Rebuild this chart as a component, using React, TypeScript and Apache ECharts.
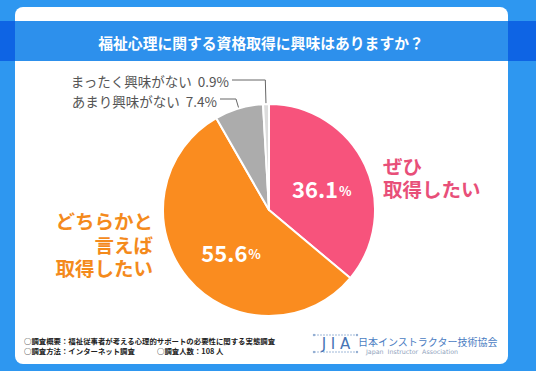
import React, { useEffect, useRef } from "react";
import * as echarts from "echarts";

const title = "福祉心理に関する資格取得に興味はありますか？";
const categories = ["ぜひ\n取得したい", "どちらかと\n言えば\n取得したい", "あまり興味がない", "まったく興味がない"];
const values = [36.1, 55.6, 7.4, 0.9];
const sliceColors = ["#f7537c", "#fa8c1f", "#acacac", "#dcdcdc"];
const nameColors = ["#e84f79", "#f48a1c", "#555555", "#555555"];
const footer1 = "○調査概要：福祉従事者が考える心理的サポートの必要性に関する実態調査";
const footer2a = "○調査方法：インターネット調査";
const footer2b = "○調査人数：108 人";
const logoMark = "J I A";
const logoName = "日本インストラクター技術協会";
const logoSub = "Japan  Instructor  Association";

const FONT = '"Noto Sans CJK JP", "Noto Sans", sans-serif';
const CX = 269;
const CY = 210;
const R = 106;

function slicePoint(i: number, rf: number): [number, number] {
  const total = values.reduce((a, b) => a + b, 0);
  let cum = 0;
  for (let k = 0; k < i; k++) cum += values[k];
  cum += values[i] / 2;
  const ang = (cum / total) * Math.PI * 2;
  return [CX + Math.sin(ang) * R * rf, CY - Math.cos(ang) * R * rf];
}

function leader(i: number, rf: number, ey: number, endX: number): number[][] {
  const s = slicePoint(i, rf);
  const k = (ey - CY) / (s[1] - CY);
  const ex = CX + k * (s[0] - CX);
  return [s, [ex, ey], [endX, ey]];
}

export default function App() {
  const ref = useRef<HTMLDivElement>(null);
  useEffect(() => {
    if (!ref.current) return;
    const chart = echarts.init(ref.current, undefined, { renderer: "svg" });
    const mainData = values.map((v, i) => ({
      value: v,
      name: categories[i],
      itemStyle: { color: sliceColors[i] },
      label:
        i < 2
          ? { position: "inside", color: "#ffffff" }
          : { position: "outside", color: "#555555", fontSize: 13.5, fontFamily: FONT },
      labelLine: { show: i >= 2, lineStyle: { color: "#666666", width: 1 } },
    }));
    const nameData = values.map((v, i) => ({
      value: v,
      name: categories[i],
      label: { show: i < 2, color: nameColors[i] },
    }));
    chart.setOption({
      animation: false,
      backgroundColor: "#2e97f0",
      graphic: [
        { type: "rect", z: 0, shape: { x: 0, y: 21, width: 536, height: 40 }, style: { fill: "#0e64e4" } },
        { type: "rect", z: 1, shape: { x: 15, y: 7, width: 493, height: 357, r: 8 }, style: { fill: "#ffffff" } },
        { type: "rect", z: 2, shape: { x: 15, y: 21, width: 493, height: 40 }, style: { fill: "#2d90ec" } },
        {
          type: "text", z: 3, x: 261, y: 42,
          style: { text: title, fill: "#ffffff", font: `bold 14.8px ${FONT}`, align: "center", verticalAlign: "middle" },
        },
        {
          type: "text", z: 3, x: 24, y: 340,
          style: { text: footer1, fill: "#222222", font: `bold 7.4px ${FONT}`, align: "left", verticalAlign: "middle" },
        },
        {
          type: "text", z: 3, x: 24, y: 350.5,
          style: { text: footer2a, fill: "#222222", font: `bold 7.4px ${FONT}`, align: "left", verticalAlign: "middle" },
        },
        {
          type: "text", z: 3, x: 157, y: 350.5,
          style: { text: footer2b, fill: "#222222", font: `bold 7.4px ${FONT}`, align: "left", verticalAlign: "middle" },
        },
        { type: "line", z: 3, shape: { x1: 314, y1: 335, x2: 357, y2: 335 }, style: { stroke: "#9fb8d8", lineWidth: 1, lineDash: [2, 1] } },
        { type: "line", z: 3, shape: { x1: 314, y1: 352, x2: 357, y2: 352 }, style: { stroke: "#9fb8d8", lineWidth: 1, lineDash: [2, 1] } },
        { type: "circle", z: 3, shape: { cx: 314, cy: 335, r: 1.2 }, style: { fill: "#8eaad0" } },
        { type: "circle", z: 3, shape: { cx: 357, cy: 335, r: 1.2 }, style: { fill: "#8eaad0" } },
        { type: "circle", z: 3, shape: { cx: 314, cy: 352, r: 1.2 }, style: { fill: "#8eaad0" } },
        { type: "circle", z: 3, shape: { cx: 357, cy: 352, r: 1.2 }, style: { fill: "#8eaad0" } },
        {
          type: "text", z: 3, x: 336, y: 344,
          style: { text: logoMark, fill: "#4774b4", font: `15px "DejaVu Sans", sans-serif`, align: "center", verticalAlign: "middle" },
        },
        {
          type: "text", z: 3, x: 358, y: 341,
          style: { text: logoName, fill: "#4a7cc2", font: `10px ${FONT}`, align: "left", verticalAlign: "middle" },
        },
        {
          type: "text", z: 3, x: 366, y: 351,
          style: { text: logoSub, fill: "#8fa3bd", font: `6.3px "DejaVu Sans", sans-serif`, align: "left", verticalAlign: "middle" },
        },
      ],
      series: [
        {
          type: "pie",
          z: 5,
          center: [CX, CY],
          radius: R,
          startAngle: 90,
          clockwise: true,
          avoidLabelOverlap: false,
          silent: true,
          itemStyle: { borderColor: "#ffffff", borderWidth: 2 },
          label: {
            show: true,
            fontFamily: FONT,
            formatter: (p: any) =>
              p.dataIndex < 2 ? `{v|${p.value}}{p|%}` : `${p.name}  ${p.value}%`,
            rich: {
              v: { fontSize: 22, fontWeight: "bold", color: "#ffffff", fontFamily: FONT },
              p: { fontSize: 13, fontWeight: "bold", color: "#ffffff", fontFamily: FONT, padding: [4, 0, 0, 1] },
            },
          },
          labelLayout: (params: any) => {
            const i = params.dataIndex;
            if (i === 0) return { dx: 2, dy: 2 };
            if (i === 1) return { dx: 5, dy: 6 };
            if (i === 2)
              return { x: 217, y: 101, align: "right", verticalAlign: "middle", labelLinePoints: leader(2, 0.9, 99, 220) };
            return { x: 229, y: 81, align: "right", verticalAlign: "middle", labelLinePoints: leader(3, 0.94, 80, 232) };
          },
          data: mainData,
        },
        {
          type: "pie",
          z: 6,
          center: [CX, CY],
          radius: R,
          startAngle: 90,
          clockwise: true,
          avoidLabelOverlap: false,
          silent: true,
          itemStyle: { color: "rgba(0,0,0,0)", borderWidth: 0 },
          label: {
            show: true,
            position: "outside",
            formatter: "{b}",
            fontSize: 19.5,
            fontWeight: "bold",
            lineHeight: 23.5,
            fontFamily: FONT,
          },
          labelLine: { show: false },
          labelLayout: (params: any) => {
            const i = params.dataIndex;
            if (i === 0) return { x: 383, y: 177, align: "left", verticalAlign: "middle" };
            return { x: 153, y: 244, align: "right", verticalAlign: "middle" };
          },
          data: nameData,
        },
      ],
    });
    return () => chart.dispose();
  }, []);
  return <div ref={ref} style={{ position: "fixed", left: 0, top: 0, width: 536, height: 371 }} />;
}
